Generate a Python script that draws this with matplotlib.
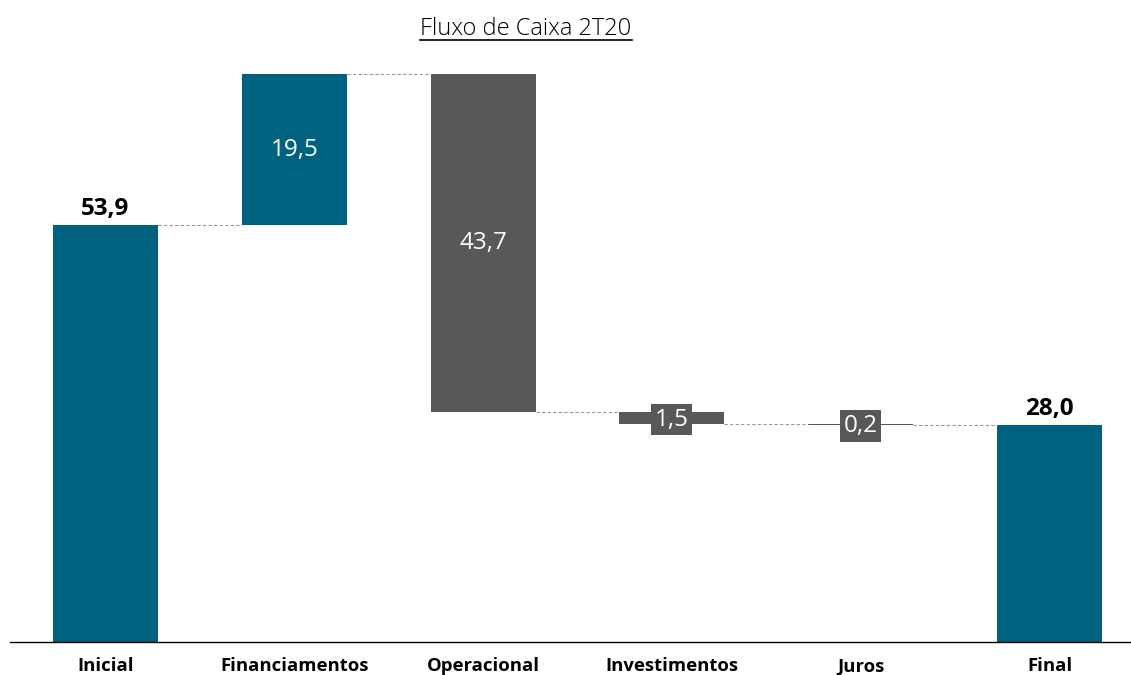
import matplotlib
matplotlib.use("Agg")
import matplotlib.pyplot as plt
from matplotlib.lines import Line2D

categories = ["Inicial", "Financiamentos", "Operacional", "Investimentos", "Juros", "Final"]
values = [53.9, 19.5, -43.7, -1.5, -0.2, 28.0]
labels = ["53,9", "19,5", "43,7", "1,5", "0,2", "28,0"]
kinds = ["total", "delta", "delta", "delta", "delta", "total"]

TEAL = "#00627F"
GRAY = "#58585A"

plt.rcParams['font.family'] = ['Open Sans', 'DejaVu Sans']

W, H = 1131, 675
fig = plt.figure(figsize=(W / 100, H / 100), dpi=100)
base_px = 642
scale = 7.737
ax_left_px = 10
top_px = 50
ax = fig.add_axes([ax_left_px / W, (H - base_px) / H, (W - ax_left_px) / W, (base_px - top_px) / H])
x0, dx = 105.5, 188.8
ax.set_xlim((ax_left_px - x0) / dx, (W - x0) / dx)
ax.set_ylim(0, (base_px - top_px) / scale)
bw = 105 / dx

running = 0.0
bottoms, tops = [], []
for i, (v, k) in enumerate(zip(values, kinds)):
    if k == "total":
        b, t = 0.0, v
        running = v
    else:
        if v >= 0:
            b, t = running, running + v
        else:
            b, t = running + v, running
        running = running + v
    bottoms.append(b)
    tops.append(t)
    color = TEAL if (k == "total" or v >= 0) else GRAY
    ax.bar(i, t - b, bottom=b, width=bw, color=color, edgecolor=color, linewidth=0)

# connectors
levels = []
running = 0.0
for i, (v, k) in enumerate(zip(values, kinds)):
    running = v if k == "total" else running + v
    levels.append(running)
for i in range(len(values) - 1):
    ax.plot([i + bw / 2, i + 1 - bw / 2], [levels[i], levels[i]], color="#9a9a9a",
            linestyle=(0, (3, 2)), linewidth=0.8)

# labels
for i, (v, k) in enumerate(zip(values, kinds)):
    if k == "total":
        ax.text(i, tops[i] + 0.5, labels[i], ha="center", va="bottom", fontsize=17.5,
                fontweight="bold", color="black")
    else:
        mid = (bottoms[i] + tops[i]) / 2
        if tops[i] - bottoms[i] > 5:
            ax.text(i, mid, labels[i], ha="center", va="center", fontsize=17.5, color="white")
        else:
            ax.text(i, mid - 0.2, labels[i], ha="center", va="center", fontsize=17.5, color="white",
                    bbox=dict(boxstyle="square,pad=0.15", facecolor=GRAY, edgecolor="none"))

ax.set_xticks(range(len(categories)))
ax.set_xticklabels(categories, fontsize=13.3, fontweight="bold")
ax.tick_params(axis="x", length=0, pad=11)
ax.set_yticks([])
for s in ["top", "right", "left"]:
    ax.spines[s].set_visible(False)
ax.spines["bottom"].set_color("black")
ax.spines["bottom"].set_linewidth(1.0)

title = fig.text(526 / W, 1 - 29 / H, "Fluxo de Caixa 2T20", ha="center", va="center",
                 fontsize=17, fontweight="light")
fig.canvas.draw()
bb = title.get_window_extent()
uy = (bb.y0 + 1) / H
fig.add_artist(Line2D([bb.x0 / W, bb.x1 / W], [uy, uy], color="black", linewidth=1.2))

fig.savefig("out.png", dpi=100)
